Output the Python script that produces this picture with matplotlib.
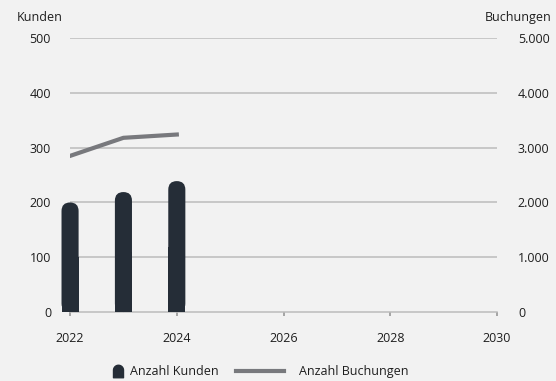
import matplotlib.pyplot as plt
from matplotlib.patches import FancyBboxPatch
from matplotlib.lines import Line2D
from matplotlib.path import Path
import numpy as np

plt.rcParams['font.family'] = ['Open Sans', 'DejaVu Sans']

# Daten
jahre = [2022, 2023, 2024]
kunden = [200, 219, 239]
buchungen = [2850, 3180, 3240]
x_ticks = [2022, 2024, 2026, 2028, 2030]
y_links = [0, 100, 200, 300, 400, 500]
y_rechts = ['0', '1.000', '2.000', '3.000', '4.000', '5.000']

bg = '#f2f2f2'
bar_col = '#252d37'
line_col = '#78797d'
grid_col = '#bcbcbc'
txt_col = '#1e1e1e'
fs = 9

fig = plt.figure(figsize=(5.56, 3.81), dpi=100, facecolor=bg)
ax = fig.add_axes([0.126, 0.181, 0.768, 0.719])
ax.set_facecolor(bg)
ax.set_xlim(2022, 2030)
ax.set_ylim(0, 500)

for y in y_links[1:]:
    ax.axhline(y, color=grid_col, lw=1.1, zorder=0)

# Balken mit runder Kappe
w = 0.32
asp = (500 / 274.0) / (8 / 427.0)
for x, v in zip(jahre, kunden):
    p = FancyBboxPatch((x - w / 2, 0), w, v,
                       boxstyle='round,pad=0,rounding_size=%f' % (w / 2),
                       mutation_aspect=asp, fc=bar_col, ec='none', zorder=3,
                       clip_on=False)
    ax.add_patch(p)
ax.bar(jahre, np.array(kunden) / 2, width=w, color=bar_col, zorder=3, clip_on=False)

ax2 = ax.twinx()
ax2.set_ylim(0, 5000)
ax2.plot(jahre, buchungen, color=line_col, lw=3, zorder=4)

for a in (ax, ax2):
    for s in a.spines.values():
        s.set_visible(False)
ax.spines['bottom'].set_visible(True)
ax.spines['bottom'].set_color(grid_col)
ax.spines['bottom'].set_linewidth(1.1)

ax.set_xticks(x_ticks)
ax.set_xticklabels([str(t) for t in x_ticks])
ax.tick_params(axis='x', length=3, width=1.1, color='#909090', labelsize=fs,
               labelcolor=txt_col, pad=11.5)
ax.tick_params(axis='y', length=0, labelsize=fs, labelcolor=txt_col, pad=13.7)
ax.set_yticks(y_links)
ax2.set_yticks(np.array(y_links) * 10)
ax2.set_yticklabels(y_rechts)
ax2.tick_params(axis='y', length=0, labelsize=fs, labelcolor=txt_col, pad=15)

fig.text(0.03, 0.955, 'Kunden', fontsize=fs, color=txt_col, ha='left', va='center')
fig.text(0.992, 0.955, 'Buchungen', fontsize=fs, color=txt_col, ha='right', va='center')

# Legende: Symbol mit runder Oberkante
t = np.linspace(0, np.pi, 20)
verts = [(-0.8, -1.0)] + [(-0.8, 0.2)] + list(zip(0.8 * np.cos(np.pi - t), 0.2 + 0.8 * np.sin(np.pi - t))) + [(0.8, -1.0), (-0.8, -1.0)]
codes = [Path.MOVETO] + [Path.LINETO] * (len(verts) - 2) + [Path.CLOSEPOLY]
kappe = Path(verts, codes)

h1 = Line2D([], [], marker=kappe, ls='none', color=bar_col, markersize=9)
h2 = Line2D([], [], color=line_col, lw=3)
fig.legend([h1], ['Anzahl Kunden'], loc='center', bbox_to_anchor=(0.297, 0.024),
           frameon=False, fontsize=fs, handlelength=1.0, handletextpad=0.5,
           labelcolor=txt_col)
fig.legend([h2], ['Anzahl Buchungen'], loc='center', bbox_to_anchor=(0.58, 0.024),
           frameon=False, fontsize=fs, handlelength=3.8, handletextpad=1.2,
           labelcolor=txt_col)

fig.savefig('out.png', dpi=100, facecolor=bg)
